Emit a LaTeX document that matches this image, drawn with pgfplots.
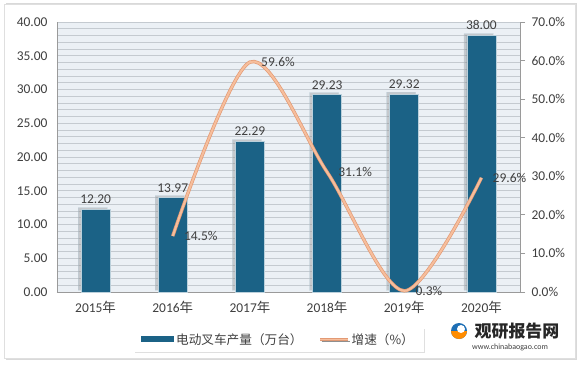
\documentclass[border=0pt]{standalone}
\usepackage{pgfplots}
\pgfplotsset{compat=1.18}
\usepackage{fontspec}
\setmainfont{Carlito}
\newfontfamily\cjk{Noto Sans CJK SC}
\usetikzlibrary{shadows}
\definecolor{barc}{HTML}{1B6286}
\definecolor{bgc}{HTML}{EBF0F5}
\definecolor{gridc}{HTML}{C4CAD0}
\definecolor{txt}{HTML}{404040}
\definecolor{linec}{HTML}{F6BE9C}
\definecolor{lineo}{HTML}{E39A74}
\definecolor{axc}{HTML}{9A9A9A}
\definecolor{logob}{HTML}{1E6FB5}
\begin{document}
\begin{tikzpicture}
% page and card
\fill[white] (-57bp,-74bp) rectangle (523bp,292bp);
\fill[gray!30] (-51bp,-68bp) rectangle (520bp,289bp);
\fill[white,draw=gray!25] (-53bp,-66bp) rectangle (518bp,288bp);
\begin{axis}[
  at={(0,0)}, anchor=south west,
  width=463bp, height=270bp, scale only axis,
  xmin=-0.5, xmax=5.5, ymin=0, ymax=40,
  axis x line*=bottom, axis y line*=left,
  axis line style={draw=axc, line width=0.8bp},
  axis background/.style={fill=bgc},
  ytick={0,5,...,40}, minor y tick num=4,
  ymajorgrids, yminorgrids,
  major grid style={draw=gridc, line width=0.7bp},
  minor grid style={draw=gridc, line width=0.7bp},
  major tick length=0pt, minor tick length=0pt,
  xtick={0,...,5},
  xticklabels={2015{\cjk 年},2016{\cjk 年},2017{\cjk 年},2018{\cjk 年},2019{\cjk 年},2020{\cjk 年}},
  yticklabel={\pgfmathprintnumber[fixed,fixed zerofill,precision=2]{\tick}},
  /pgf/number format/assume math mode=true,
  tick label style={font=\fontsize{13.5}{15}\selectfont, text=txt},
  yticklabel style={xshift=-6bp},
  xticklabel style={yshift=-6bp},
  ybar, bar width=29bp,
  nodes near coords={\pgfmathprintnumber[fixed,fixed zerofill,precision=2]{\pgfplotspointmeta}},
  every node near coord/.append style={font=\fontsize{13.5}{15}\selectfont, text=txt, yshift=2bp},
  legend columns=2,
  legend style={at={(0.164,-0.13)}, anchor=north west, draw=none, fill=white,
    drop shadow={shadow xshift=1.5bp, shadow yshift=-1.5bp, opacity=0.25},
    font=\fontsize{12.7}{15}\selectfont\cjk, text=txt,
    inner xsep=8bp, inner ysep=4bp,
    /tikz/every even column/.append style={column sep=14bp}},
]
\addplot[fill=barc, draw=white!70!barc, line width=0.5bp,
  drop shadow={shadow xshift=-3bp, shadow yshift=2bp, opacity=0.35, fill=gray},
  legend image code/.code={\pgfsetfillcolor{barc}\pgfpathrectangle{\pgfpoint{0bp}{-3bp}}{\pgfpoint{33bp}{6bp}}\pgfusepath{fill}}]
  coordinates {(0,12.20) (1,13.97) (2,22.29) (3,29.23) (4,29.32) (5,38.00)};
\addlegendentry{电动叉车产量（万台）}
\addlegendimage{legend image code/.code={\draw[lineo, line width=3bp] (0bp,0bp) -- (28bp,0bp);\draw[linec, line width=1.8bp] (0bp,0bp) -- (28bp,0bp);}}
\addlegendentry{增速（\%）}
\end{axis}
\begin{axis}[
  at={(0,0)}, anchor=south west,
  width=463bp, height=270bp, scale only axis,
  xmin=-0.5, xmax=5.5, ymin=0, ymax=70,
  axis x line=none, axis y line*=right,
  axis line style={draw=axc, line width=0.8bp},
  ytick={0,10,...,70},
  tick align=outside, major tick length=5bp, tick style={draw=axc, line width=0.8bp},
  yticklabel={\pgfmathprintnumber[fixed,fixed zerofill,precision=1]{\tick}\%},
  /pgf/number format/assume math mode=true,
  tick label style={font=\fontsize{13.5}{15}\selectfont, text=txt},
  yticklabel style={xshift=3bp},
  clip=false,
  nodes near coords={\pgfmathprintnumber[fixed,fixed zerofill,precision=1]{\pgfplotspointmeta}\%},
  every node near coord/.append style={font=\fontsize{13.5}{15}\selectfont, text=txt, anchor=west, xshift=7bp, yshift=0bp},
]
\addplot[smooth, lineo, line width=3.4bp, no markers, nodes near coords=\empty]
  coordinates {(1,14.5) (2,59.6) (3,31.1) (4,0.3) (5,29.6)};
\addplot[smooth, linec, line width=2bp, no markers]
  coordinates {(1,14.5) (2,59.6) (3,31.1) (4,0.3) (5,29.6)};
\end{axis}
% watermark
\begin{scope}[shift={(-57bp,292bp)}]
\fill[logob] (459bp,-331bp) circle (8bp);
\fill[orange!90!yellow] (459bp,-331bp) ++(-8bp,0) arc (180:360:8bp) -- cycle;
\fill[white] (461bp,-329bp) circle (4bp);
\node[font=\fontsize{17}{19}\selectfont\cjk\bfseries, text=black!85] at (517bp,-331bp) {观研报告网};
\node[font=\fontsize{8}{9}\selectfont, text=black!75] at (510bp,-347bp) {www.chinabaogao.com};
\end{scope}
\end{tikzpicture}
\end{document}
